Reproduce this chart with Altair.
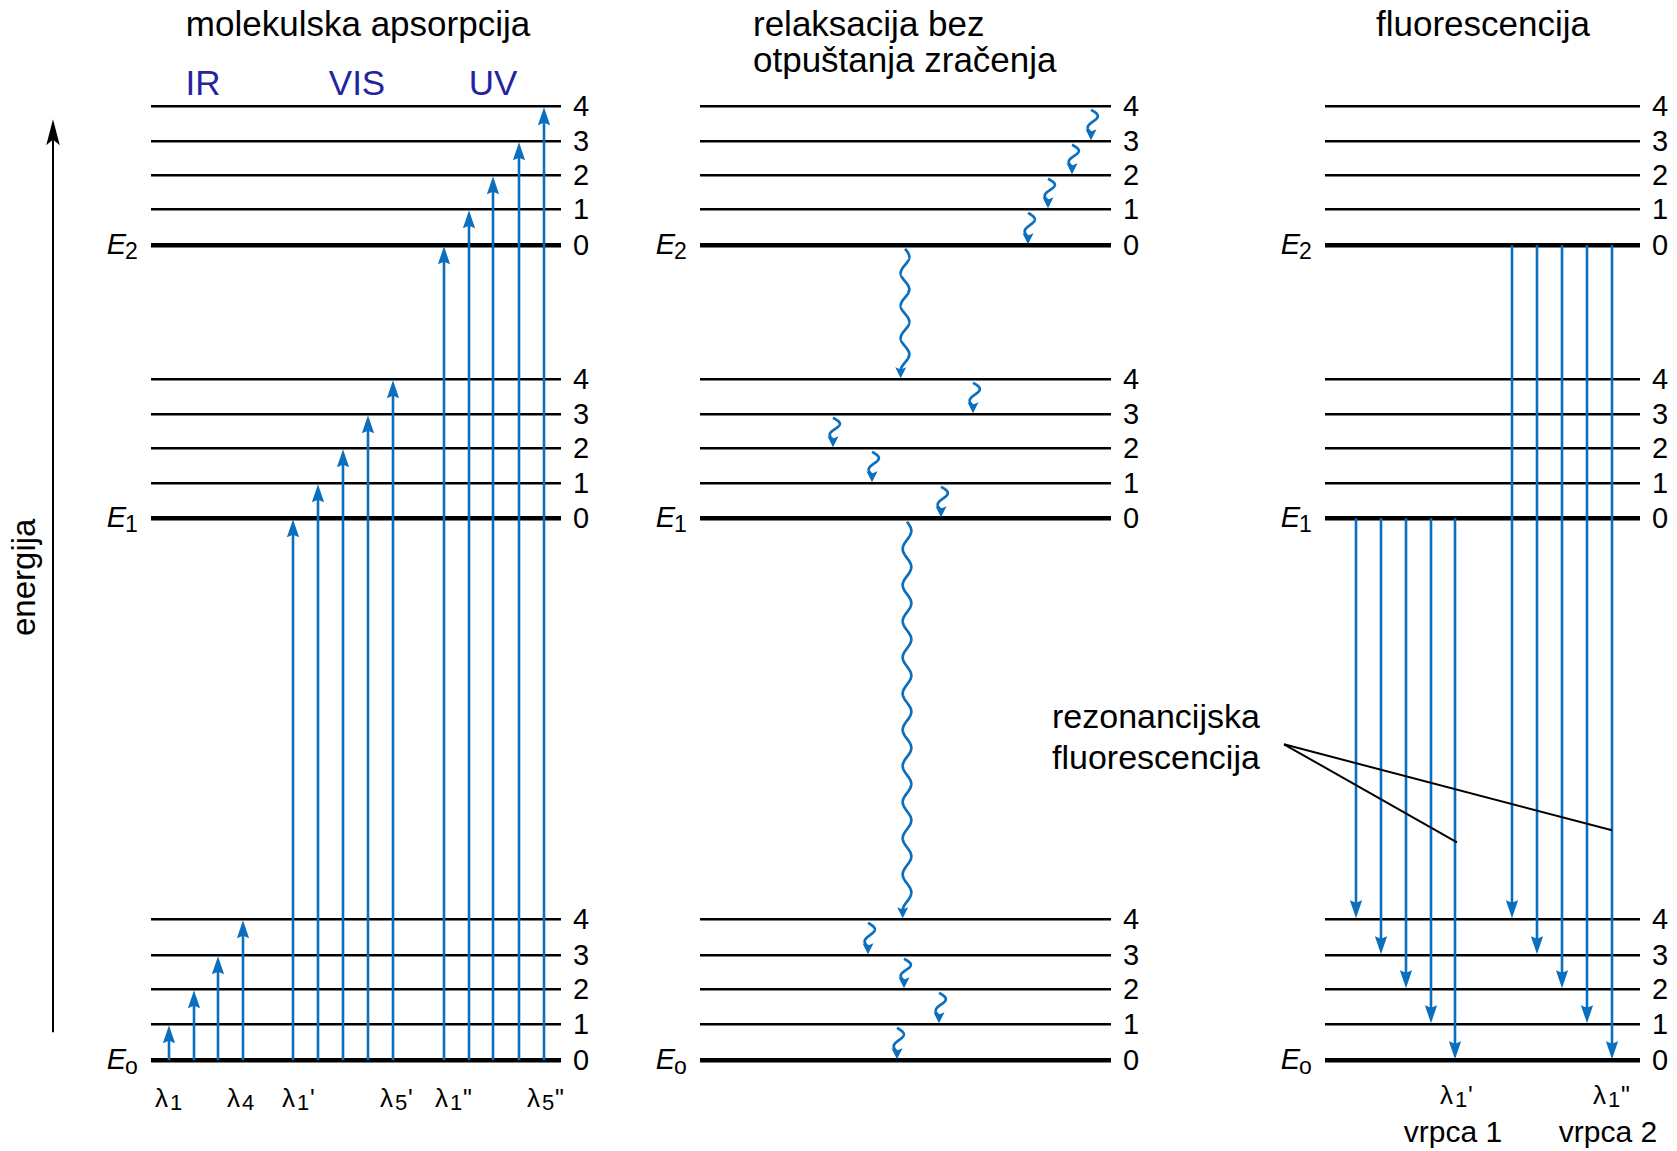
import altair as alt
import numpy as np
import pandas as pd

W, H = 1677, 1151
BASE = 1060.3  # pixel row of the ground line E0 (energy 0)

BLACK = "#000000"
BLUE = "#0a6fbf"
NAVY = "#2424a0"
FONT = "Liberation Sans"

# ---------------- data ----------------
# energy of vibrational levels 0..4 of each electronic state
E0_levels = [0, 36, 71, 105, 141]
E1_levels = [542, 577, 612, 646, 681]
E2_levels = [815, 851, 885, 919, 954]
states = [E0_levels, E1_levels, E2_levels]
state_sub = ["o", "1", "2"]
vib_labels = ["0", "1", "2", "3", "4"]

panel_x0 = [151, 700, 1325]
panel_x1 = [561, 1111, 1640]

# absorption (panel 1): E0 v=0 -> (state, v)
abs_x = [169, 194, 218, 243, 293, 318, 343, 368, 393, 444, 469, 493, 519, 544]
abs_state = [0, 0, 0, 0, 1, 1, 1, 1, 1, 2, 2, 2, 2, 2]
abs_vib = [1, 2, 3, 4, 0, 1, 2, 3, 4, 0, 1, 2, 3, 4]

# fluorescence (panel 3): (state, v=0) -> E0 v
fl_x = [1356, 1381, 1406, 1431, 1455, 1512, 1537, 1562, 1587, 1612]
fl_state = [1, 1, 1, 1, 1, 2, 2, 2, 2, 2]
fl_vib = [4, 3, 2, 1, 0, 4, 3, 2, 1, 0]

# non-radiative relaxation (panel 2)
rx_x = [1091, 1072, 1048, 1028, 905, 973, 833, 872, 941, 907, 868, 904, 939, 897]
rx_from = [(2, 4), (2, 3), (2, 2), (2, 1), (2, 0), (1, 4), (1, 3), (1, 2), (1, 1),
           (1, 0), (0, 4), (0, 3), (0, 2), (0, 1)]
rx_to = [(2, 3), (2, 2), (2, 1), (2, 0), (1, 4), (1, 3), (1, 2), (1, 1), (1, 0),
         (0, 4), (0, 3), (0, 2), (0, 1), (0, 0)]
rx_long = [False, False, False, False, True, False, False, False, False, True,
           False, False, False, False]

# energy axis arrow
axis_x = 53
axis_from = 28
axis_to = 941

# texts
title_c_text = ["molekulska apsorpcija", "fluorescencija"]
title_c_x = [358, 1483]
title_c_y = [1024, 1024]
title_l_text = ["relaksacija bez", "otpuštanja zračenja"]
title_l_x = [753, 753]
title_l_y = [1024, 988]
band_text = ["IR", "VIS", "UV"]
band_x = [203, 357, 493]
band_y = [965, 965, 965]

lam_x = [155, 227, 282, 380, 435, 527, 1440, 1593]
lam_y = [-47, -47, -47, -47, -47, -47, -44, -44]
lam_sub = ["1", "4", "1", "5", "1", "5", "1", "1"]
lam_prime = ["", "", "'", "'", "\"", "\"", "'", "\""]

band_names = ["vrpca 1", "vrpca 2"]
band_name_x = [1453, 1608]
band_name_y = [-82, -82]

note_text = ["rezonancijska", "fluorescencija"]
note_x = [1052, 1052]
note_y = [332, 291]
leader_x = [1284, 1284]
leader_y = [316, 316]
leader_x2 = [1457, 1612]
leader_y2 = [218, 230]

energy_label = "energija"
energy_label_x = 25
energy_label_y = 483

# ---------------- tables ----------------
xs = alt.Scale(domain=[0, W], nice=False, zero=False)
ys = alt.Scale(domain=[BASE - H, BASE], nice=False, zero=False)

def X(f="x"):
    return alt.X(f"{f}:Q", scale=xs, axis=None)

def Y(f="y"):
    return alt.Y(f"{f}:Q", scale=ys, axis=None)

lev_rows, elab_rows = [], []
for p in range(3):
    for s, levels in enumerate(states):
        for v, e in enumerate(levels):
            lev_rows.append(dict(x=panel_x0[p], x2=panel_x1[p], xl=panel_x1[p], y=e,
                                 w=4.5 if v == 0 else 2.6, lab=vib_labels[v]))
        elab_rows.append(dict(x=panel_x0[p], y=states[s][0], sub=state_sub[s]))
lev = pd.DataFrame(lev_rows)
elab = pd.DataFrame(elab_rows)

HEAD = 18
up_rows = []
for x, s, v in zip(abs_x, abs_state, abs_vib):
    tip = states[s][v] - 1
    up_rows.append(dict(x=x, y=E0_levels[0], y2=tip - HEAD * 0.7, tip=tip))
up = pd.DataFrame(up_rows)

dn_rows = []
for x, s, v in zip(fl_x, fl_state, fl_vib):
    tip = E0_levels[v] + 1
    dn_rows.append(dict(x=x, y=states[s][0], y2=tip + HEAD * 0.7, tip=tip))
dn = pd.DataFrame(dn_rows)

SHEAD = 11
sq_rows, sh_rows = [], []
for k, (x0, f, t, lg) in enumerate(zip(rx_x, rx_from, rx_to, rx_long)):
    top = states[f[0]][f[1]] - 3.5
    tip = states[t[0]][t[1]] + 1
    end = tip + SHEAD * 0.7
    L = top - end
    if lg:
        per = np.floor(L / 36 - 0.25) + 0.75
        u = np.linspace(0, 1, 400)
        xx = x0 + 4.3 * np.sin(2 * np.pi * per * u)
    else:
        u = np.linspace(0, 1, 60)
        xx = x0 + 5.0 * np.sin(2 * np.pi * u) + 2.5 * np.sin(np.pi * u)
    yy = top - L * u
    for i in range(len(u)):
        sq_rows.append(dict(id=k, i=i, x=float(xx[i]), y=float(yy[i])))
    sh_rows.append(dict(x=float(xx[-1]), y=tip))
sq = pd.DataFrame(sq_rows)
sh = pd.DataFrame(sh_rows)

UP = "M0,0L-0.34,1L0,0.86L0.34,1Z"
DOWN = "M0,0L-0.34,-1L0,-0.86L0.34,-1Z"
SDOWN = "M0,0L-0.5,-1L0,-0.8L0.5,-1Z"
AUP = "M0,0L-0.26,1L0,0.78L0.26,1Z"

layers = []

# level lines
layers.append(alt.Chart(lev).mark_rule(color=BLACK).encode(
    x=X(), x2="x2:Q", y=Y(), strokeWidth=alt.StrokeWidth("w:Q", scale=None)))

# absorption arrows
layers.append(alt.Chart(up).mark_rule(color=BLUE, strokeWidth=2.6).encode(
    x=X(), y=Y(), y2="y2:Q"))
layers.append(alt.Chart(up).mark_point(shape=UP, filled=True, size=(2 * HEAD) ** 2,
                                       color=BLUE, opacity=1, strokeWidth=0).encode(
    x=X(), y=Y("tip")))

# fluorescence arrows
layers.append(alt.Chart(dn).mark_rule(color=BLUE, strokeWidth=2.6).encode(
    x=X(), y=Y(), y2="y2:Q"))
layers.append(alt.Chart(dn).mark_point(shape=DOWN, filled=True, size=(2 * HEAD) ** 2,
                                       color=BLUE, opacity=1, strokeWidth=0).encode(
    x=X(), y=Y("tip")))

# relaxation squiggles
layers.append(alt.Chart(sq).mark_line(color=BLUE, strokeWidth=2.7).encode(
    x=X(), y=Y(), detail="id:N", order="i:Q"))
layers.append(alt.Chart(sh).mark_point(shape=SDOWN, filled=True, size=(2 * SHEAD) ** 2,
                                       color=BLUE, opacity=1, strokeWidth=0).encode(
    x=X(), y=Y()))

# energy axis
ax = pd.DataFrame([dict(x=axis_x, y=axis_from, y2=axis_to - 20, tip=axis_to)])
layers.append(alt.Chart(ax).mark_rule(color=BLACK, strokeWidth=2).encode(
    x=X(), y=Y(), y2="y2:Q"))
layers.append(alt.Chart(ax).mark_point(shape=AUP, filled=True, size=52 ** 2,
                                       color=BLACK, opacity=1, strokeWidth=0).encode(
    x=X(), y=Y("tip")))

# annotation leader lines
ld = pd.DataFrame(dict(x=leader_x, y=leader_y, x2=leader_x2, y2=leader_y2))
layers.append(alt.Chart(ld).mark_rule(color=BLACK, strokeWidth=2).encode(
    x=X(), y=Y(), x2="x2:Q", y2="y2:Q"))

# ---- texts ----
def txt(df, **kw):
    base = dict(font=FONT, color=BLACK)
    base.update(kw)
    return alt.Chart(df).mark_text(**base).encode(x=X(), y=Y(), text="t:N")

layers.append(txt(pd.DataFrame(dict(x=title_c_x, y=title_c_y, t=title_c_text)),
                  align="center", baseline="alphabetic", fontSize=35))
layers.append(txt(pd.DataFrame(dict(x=title_l_x, y=title_l_y, t=title_l_text)),
                  align="left", baseline="alphabetic", fontSize=35))
layers.append(txt(pd.DataFrame(dict(x=band_x, y=band_y, t=band_text)),
                  align="center", baseline="alphabetic", fontSize=35, color=NAVY))

layers.append(alt.Chart(lev).mark_text(font=FONT, color=BLACK, align="left",
                                       baseline="middle", fontSize=29, dx=12, dy=1).encode(
    x=X("xl"), y=Y(), text="lab:N"))
layers.append(alt.Chart(elab).mark_text(font=FONT, color=BLACK, align="right",
                                        baseline="middle", fontSize=29, fontStyle="italic",
                                        dx=-25, dy=0).encode(
    x=X(), y=Y(), text=alt.value("E")))
layers.append(alt.Chart(elab).mark_text(font=FONT, color=BLACK, align="left",
                                        baseline="middle", fontSize=23, dx=-26, dy=7).encode(
    x=X(), y=Y(), text="sub:N"))

lam = pd.DataFrame(dict(x=lam_x, y=lam_y, t=["λ"] * len(lam_x), s=lam_sub, p=lam_prime))
layers.append(txt(lam, align="left", baseline="alphabetic", fontSize=26))
layers.append(alt.Chart(lam).mark_text(font=FONT, color=BLACK, align="left",
                                       baseline="alphabetic", fontSize=22, dx=15, dy=3).encode(
    x=X(), y=Y(), text="s:N"))
layers.append(alt.Chart(lam).mark_text(font=FONT, color=BLACK, align="left",
                                       baseline="alphabetic", fontSize=25, dx=28, dy=0).encode(
    x=X(), y=Y(), text="p:N"))

layers.append(txt(pd.DataFrame(dict(x=band_name_x, y=band_name_y, t=band_names)),
                  align="center", baseline="alphabetic", fontSize=30))
layers.append(txt(pd.DataFrame(dict(x=note_x, y=note_y, t=note_text)),
                  align="left", baseline="alphabetic", fontSize=34))
layers.append(txt(pd.DataFrame(dict(x=[energy_label_x], y=[energy_label_y], t=[energy_label])),
                  align="center", baseline="middle", fontSize=33, angle=270))

chart = alt.layer(*layers).properties(
    width=W, height=H, padding=0,
    autosize=alt.AutoSizeParams(type="none"),
).configure_view(stroke=None)

chart.save("out.html", embed_options={"renderer": "svg", "actions": False})
